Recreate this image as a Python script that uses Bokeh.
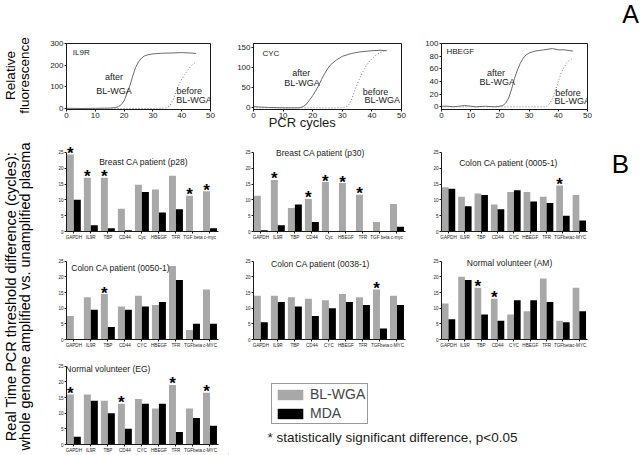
import math
from bokeh.plotting import figure
from bokeh.models import Range1d, Label, FixedTicker, Legend, LegendItem, ColumnDataSource
from bokeh.layouts import row, column
from bokeh.transform import dodge
from bokeh.core.properties import value
from bokeh.embed import file_html
from bokeh.resources import INLINE

FONT = "Liberation Sans"
GRAY = "#a8a8a8"
INK = "#1a1a1a"

# ---------------- Panel A : amplification curves ----------------
IL9R_AFTER_CYC = [0, 5, 10, 15, 17, 18, 19, 20, 21, 22, 23, 24, 25, 26, 27, 28, 30, 33, 36, 40, 43, 45]
IL9R_AFTER = [1, 0, 1, 2, 4, 8, 18, 35, 70, 105, 150, 190, 215, 232, 242, 247, 252, 255, 256, 258, 256, 254]
IL9R_BEFORE_CYC = [0, 10, 20, 30, 34, 35, 36, 37, 38, 39, 40, 41, 42, 43, 44, 45]
IL9R_BEFORE = [0, 0, 0, 0, 1, 4, 15, 40, 75, 108, 135, 155, 175, 192, 205, 215]

CYC_AFTER_CYC = [0, 2, 5, 10, 15, 16, 17, 18, 19, 20, 21, 22, 23, 24, 25, 26, 28, 30, 33, 36, 40, 43, 45]
CYC_AFTER = [3, 2, 1, 0, 0, 1, 4, 10, 20, 30, 42, 55, 70, 84, 96, 106, 118, 127, 134, 138, 141, 142, 141]
CYC_BEFORE_CYC = [0, 30, 31, 32, 33, 34, 35, 36, 37, 38, 39, 40, 41, 42, 43, 44, 45]
CYC_BEFORE = [0, 0, 1, 5, 18, 38, 58, 75, 90, 103, 113, 121, 128, 133, 137, 140, 141]

HBEGF_AFTER_CYC = [0, 2, 4, 6, 8, 10, 12, 15, 18, 20, 21, 22, 23, 24, 25, 26, 27, 28, 29, 30, 32, 35, 38, 40, 42, 45]
HBEGF_AFTER = [1, 1, 0, 1, 2, 1, 0, 1, 0, 1, 2, 6, 14, 28, 45, 58, 69, 77, 82, 85, 88, 90, 92, 90, 90, 88]
HBEGF_BEFORE_CYC = [0, 30, 35, 36, 37, 38, 39, 40, 41, 42, 43, 44, 45]
HBEGF_BEFORE = [0, 0, 0, 1, 5, 13, 26, 40, 54, 63, 70, 74, 77]

CYCLE_TICKS = [0, 10, 20, 30, 40, 50]
IL9R_YTICKS = [0, 100, 200, 300]
CYC_YTICKS = [0, 50, 100, 150]
HBEGF_YTICKS = [0, 20, 40, 60, 80, 100]

# ---------------- Panel B : threshold differences ----------------
GENES_LC = ["GAPDH", "IL9R", "TBP", "CD44", "Cyc", "HBEGF", "TFR", "TGF beta", "c-myc"]
GENES_UC = ["GAPDH", "IL9R", "TBP", "CD44", "CYC", "HBEGF", "TFR", "TGFbeta", "c-MYC"]
B_YTICKS = [0, 5, 10, 15, 20, 25]

P28_BL = [24.3, 17.0, 17.0, 7.2, 14.8, 13.3, 17.6, 11.3, 12.7]
P28_MDA = [10.0, 2.0, 1.0, 0.4, 12.5, 6.0, 7.0, 0.0, 1.0]
P28_SIG = ["GAPDH", "IL9R", "TBP", "TGF beta", "c-myc"]

P30_BL = [11.3, 16.3, 7.4, 10.3, 15.6, 15.3, 11.6, 3.0, 8.7]
P30_MDA = [0.4, 2.0, 8.5, 3.0, 0.0, 0.0, 0.0, 0.0, 1.5]
P30_SIG = ["IL9R", "CD44", "Cyc", "HBEGF", "TFR"]

C0005_BL = [14.0, 11.0, 12.0, 8.5, 12.5, 12.5, 11.0, 14.5, 11.5]
C0005_MDA = [13.5, 8.0, 11.5, 7.0, 13.0, 9.5, 9.0, 5.0, 3.5]
C0005_SIG = ["TGFbeta"]

C0050_BL = [7.5, 13.5, 14.5, 10.5, 14.0, 11.0, 23.5, 3.0, 16.0]
C0050_MDA = [0.0, 9.5, 4.0, 9.5, 10.5, 12.0, 19.0, 5.0, 5.0]
C0050_SIG = ["TBP"]

C0038_BL = [14.0, 14.0, 13.5, 13.0, 12.5, 14.5, 13.5, 16.0, 14.0]
C0038_MDA = [5.5, 12.0, 10.5, 7.5, 10.0, 12.0, 11.0, 3.5, 11.0]
C0038_SIG = ["TGFbeta"]

AM_BL = [11.5, 20.0, 16.5, 13.0, 8.0, 9.0, 19.5, 6.0, 16.5]
AM_MDA = [6.5, 19.0, 8.0, 6.0, 12.5, 12.5, 12.0, 5.5, 9.0]
AM_SIG = ["TBP", "CD44"]

EG_BL = [16.0, 16.0, 14.0, 13.0, 14.5, 11.5, 19.0, 11.5, 16.5]
EG_MDA = [2.5, 14.0, 10.0, 5.0, 13.0, 13.0, 4.0, 8.5, 6.0]
EG_SIG = ["GAPDH", "CD44", "TFR", "c-MYC"]

PX_PER_CYCLE = 3.2


def blank(w, h):
    p = figure(width=w, height=h, x_range=Range1d(0, w), y_range=Range1d(0, h),
               output_backend="svg", toolbar_location=None, min_border=0,
               x_axis_location=None, y_axis_location=None)
    if "frame_align" in p.properties():
        p.frame_align = False
    p.grid.visible = False
    p.outline_line_color = None
    return p


def put_text(p, x, y, text, size, angle=0.0, align="center", color="black"):
    p.text(x=[x], y=[y], text=[text], angle=angle, text_font=value(FONT), text_font_size=size,
           text_align=align, text_baseline="middle", text_color=color)


def style_axes(p, size):
    for ax in p.axis:
        ax.axis_line_color = INK
        ax.major_tick_line_color = INK
        ax.major_tick_in = 0
        ax.major_tick_out = 2
        ax.minor_tick_in = 0
        ax.minor_tick_out = 0
        ax.major_label_text_font = FONT
        ax.major_label_text_font_size = size
        ax.major_label_text_color = INK
        ax.major_label_standoff = 1


def curve_panel(name, ac, av, bc, bv, yr, yticks, w, mbl, mbr, name_xy, texts):
    p = figure(width=w, height=132, x_range=Range1d(0, 50), y_range=Range1d(*yr),
               output_backend="svg", toolbar_location=None,
               min_border_left=mbl, min_border_right=mbr, min_border_top=43, min_border_bottom=22)
    p.grid.visible = False
    p.outline_line_color = INK
    p.line(ac, av, line_color="#6a6a6a", line_width=1)
    p.line(bc, bv, line_color="#7a7a7a", line_width=1, line_dash="1 2")
    p.xaxis.ticker = FixedTicker(ticks=CYCLE_TICKS)
    p.yaxis.ticker = FixedTicker(ticks=yticks)
    style_axes(p, "8px")
    p.add_layout(Label(x=name_xy[0], y=name_xy[1], text=name, text_font=FONT, text_font_size="8px",
                       text_align="left", text_baseline="middle", text_color=INK))
    for (tx, ty, t) in texts:
        p.add_layout(Label(x=tx, y=ty, text=t, text_font=FONT, text_font_size="9px",
                           text_align="center", text_baseline="middle", text_color=INK))
    return p


def bar_panel(title, genes, bl, mda, sig, w, h, mbl, mbr, mbt, mbb, title_xy):
    n = len(genes)
    pos = list(range(n))
    ymax = (h - mbt - mbb) / PX_PER_CYCLE
    p = figure(width=w, height=h, x_range=Range1d(-0.43, n - 0.5), y_range=Range1d(0, ymax),
               output_backend="svg", toolbar_location=None,
               min_border_left=mbl, min_border_right=mbr, min_border_top=mbt, min_border_bottom=mbb)
    p.grid.visible = False
    p.outline_line_color = None
    src = ColumnDataSource(dict(pos=pos, bl=bl, mda=mda))
    p.vbar(x=dodge("pos", -0.205), top="bl", width=0.41, source=src, fill_color=GRAY, line_color=None)
    p.vbar(x=dodge("pos", 0.205), top="mda", width=0.41, source=src, fill_color="black", line_color=None)
    idx = [genes.index(g) for g in sig]
    star = ColumnDataSource(dict(pos=idx, top=[max(bl[i], mda[i]) for i in idx], t=["*"] * len(idx)))
    p.text(x=dodge("pos", -0.205), y="top", text="t", source=star, text_font=value(FONT),
           text_font_size="17px", text_font_style="bold", text_align="center",
           text_baseline="alphabetic", y_offset=-1, text_color="black")
    p.xaxis.ticker = FixedTicker(ticks=pos)
    p.xaxis.major_label_overrides = {i: g for i, g in enumerate(genes)}
    p.yaxis.ticker = FixedTicker(ticks=B_YTICKS)
    p.yaxis.bounds = (B_YTICKS[0], B_YTICKS[-1])
    style_axes(p, "4.6px")
    p.add_layout(Label(x=title_xy[0], y=title_xy[1], text=title, text_font=FONT, text_font_size="8.5px",
                       text_align="center", text_baseline="middle", text_color=INK))
    return p


# ---------------- Row A (y 0..132) ----------------
relfl = blank(44, 132)
put_text(relfl, 10, 57, "Relative", "13.5px", angle=math.pi / 2)
put_text(relfl, 24, 57, "fluorescence", "13.5px", angle=math.pi / 2)

a1 = curve_panel("IL9R", IL9R_AFTER_CYC, IL9R_AFTER, IL9R_BEFORE_CYC, IL9R_BEFORE,
                 (-4.6, 300), IL9R_YTICKS, 188, 22, 22, (2.2, 260),
                 [(16.5, 146, "after"), (16.5, 82, "BL-WGA"), (42.6, 82, "before"), (44.3, 38, "BL-WGA")])
a2 = curve_panel("CYC", CYC_AFTER_CYC, CYC_AFTER, CYC_BEFORE_CYC, CYC_BEFORE,
                 (-4.1, 158.7), CYC_YTICKS, 187, 21, 18, (3.0, 134),
                 [(16.1, 85, "after"), (16.4, 61, "BL-WGA"), (41.2, 40, "before"), (43.5, 18.5, "BL-WGA")])
a2.xaxis.axis_label = "PCR cycles" + "\u00a0" * 14
a2.xaxis.axis_label_text_font = FONT
a2.xaxis.axis_label_text_font_size = "13px"
a2.xaxis.axis_label_text_font_style = "normal"
a2.xaxis.axis_label_text_color = INK
a2.xaxis.axis_label_standoff = -6
a3 = curve_panel("HBEGF", HBEGF_AFTER_CYC, HBEGF_AFTER, HBEGF_BEFORE_CYC, HBEGF_BEFORE,
                 (-4.2, 100), HBEGF_YTICKS, 176, 22, 8, (1.7, 87),
                 [(18.7, 54, "after"), (19.1, 39, "BL-WGA"), (43.3, 22, "before"), (44.8, 8.8, "BL-WGA")])
tagA = blank(45, 132)
put_text(tagA, 35, 119, "A", "25px")
rowA = row(relfl, a1, a2, a3, tagA)

# ---------------- Rows B (y 132..455) ----------------
b11 = bar_panel("Breast CA patient (p28)", GENES_LC, P28_BL, P28_MDA, P28_SIG, 178, 110, 16, 10, 6, 10, (4.1, 21.9))
b12 = bar_panel("Breast CA patient (p30)", GENES_LC, P30_BL, P30_MDA, P30_SIG, 187, 110, 25, 10, 6, 10, (3.5, 24.7))
b13 = bar_panel("Colon CA patient (0005-1)", GENES_UC, C0005_BL, C0005_MDA, C0005_SIG, 182, 110, 26, 10, 6, 10, (3.67, 21.6))
tagB = blank(43, 110)
put_text(tagB, 23, 79, "B", "26px")

b21 = bar_panel("Colon CA patient (0050-1)", GENES_UC, C0050_BL, C0050_MDA, C0050_SIG, 178, 108, 16, 10, 5, 9, (2.75, 22.8))
b22 = bar_panel("Colon CA patient (0038-1)", GENES_UC, C0038_BL, C0038_MDA, C0038_SIG, 187, 108, 25, 10, 5, 9, (3.5, 24.1))
b23 = bar_panel("Normal volunteer (AM)", GENES_UC, AM_BL, AM_MDA, AM_SIG, 182, 108, 26, 10, 5, 9, (3.73, 24.4))

b31 = bar_panel("Normal volunteer (EG)", GENES_UC, EG_BL, EG_MDA, EG_SIG, 178, 105, 16, 10, 2, 9, (2.0, 24.0))

leg = blank(412, 105)
r_bl = leg.vbar(x=[-1000], top=[1], width=1, fill_color=GRAY, line_color=None)
r_mda = leg.vbar(x=[-1000], top=[1], width=1, fill_color="black", line_color=None)
legend = Legend(items=[LegendItem(label="BL-WGA", renderers=[r_bl]),
                       LegendItem(label="MDA", renderers=[r_mda])],
                location=(43, 31), orientation="vertical",
                glyph_width=32, glyph_height=13, label_height=13, label_standoff=4,
                spacing=3, padding=2, margin=0,
                label_text_font=FONT, label_text_font_size="14px", label_text_baseline="middle",
                border_line_color="#333333", border_line_width=1.5, background_fill_color="white")
leg.add_layout(legend)
put_text(leg, 39, 18, "* statistically significant difference, p<0.05", "13.5px", align="left", color=INK)

ylab = blank(50, 323)
put_text(ylab, 10, 159, "Real Time PCR threshold difference (cycles):", "14.5px", angle=math.pi / 2)
put_text(ylab, 24, 159, "whole genome amplified vs. unamplified plasma", "14.5px", angle=math.pi / 2)

rowsB = row(ylab, column(row(b11, b12, b13, tagB), row(b21, b22, b23), row(b31, leg)))

layout = column(rowA, rowsB)

open("out.html", "w").write(file_html(layout, INLINE))
